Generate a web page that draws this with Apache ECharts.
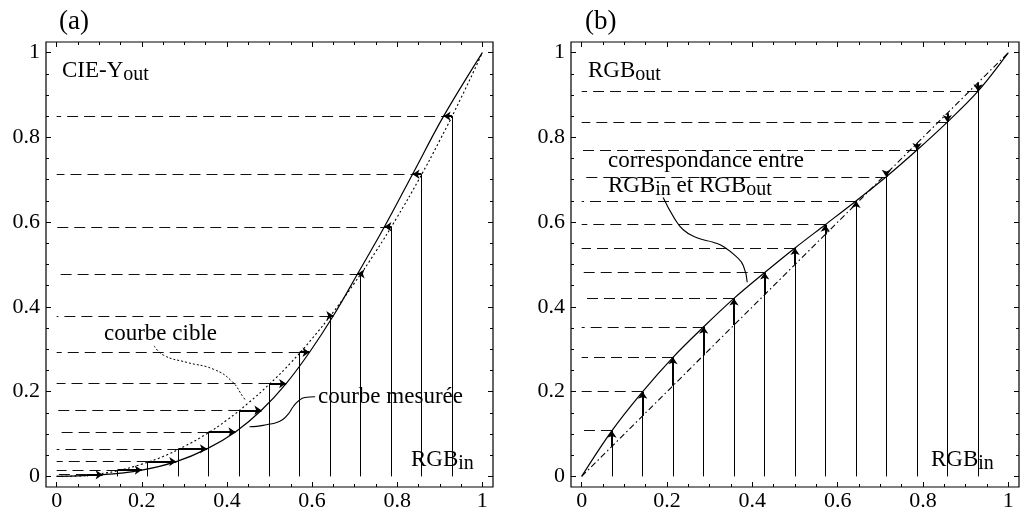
<!DOCTYPE html>
<html>
<head>
<meta charset="utf-8">
<script src="https://cdn.jsdelivr.net/npm/echarts@6/dist/echarts.min.js"></script>
<style>
  html, body { margin: 0; padding: 0; background: #fff; }
  #chart { width: 1021px; height: 512px; }
</style>
</head>
<body>
<div id="chart"></div>
<script>
// Input levels RGB_in = k/14 (k = 1..13)
const rgbIn = [0.071, 0.143, 0.214, 0.286, 0.357, 0.429, 0.5, 0.571, 0.643, 0.714, 0.786, 0.857, 0.929];
// Target CIE-Y values reached at each input level
const targetY = [0.004, 0.015, 0.035, 0.065, 0.105, 0.156, 0.219, 0.293, 0.379, 0.478, 0.589, 0.713, 0.850];
// Corrected output levels RGB_out giving the target on the measured curve
const rgbOut = [0.108, 0.200, 0.281, 0.353, 0.420, 0.481, 0.539, 0.594, 0.650, 0.707, 0.770, 0.836, 0.909];

// Target curve (dotted), sampled along RGB_in
const curveX = [0, 0.05, 0.1, 0.15, 0.2, 0.25, 0.3, 0.35, 0.4, 0.45, 0.5, 0.55, 0.6, 0.65, 0.7, 0.75, 0.8, 0.85, 0.9, 0.95, 1];
const targetCurve = [0, 0.001, 0.006, 0.015, 0.029, 0.047, 0.071, 0.099, 0.133, 0.173, 0.218, 0.268, 0.325, 0.388, 0.457, 0.531, 0.612, 0.699, 0.793, 0.893, 1];

// Axis ticks
const majorTicks = [0, 0.2, 0.4, 0.6, 0.8, 1];
const tickLabels = ['0', '0.2', '0.4', '0.6', '0.8', '1'];
const minorTicks = [0.05, 0.1, 0.15, 0.25, 0.3, 0.35, 0.45, 0.5, 0.55, 0.65, 0.7, 0.75, 0.85, 0.9, 0.95];

// Leader lines for the annotations (data coordinates)
const cibleLeader = [[0.229, 0.308], [0.251, 0.286], [0.306, 0.269], [0.368, 0.253], [0.411, 0.225], [0.439, 0.186], [0.445, 0.178]];
const mesureeLeader = [[0.607, 0.188], [0.583, 0.186], [0.568, 0.178], [0.556, 0.165], [0.544, 0.147], [0.532, 0.135], [0.517, 0.127], [0.493, 0.122], [0.470, 0.118], [0.453, 0.117]];
const corrLeader = [[0.191, 0.658], [0.215, 0.613], [0.238, 0.582], [0.270, 0.563], [0.310, 0.552], [0.333, 0.542], [0.363, 0.518], [0.379, 0.497], [0.388, 0.458]];

const FONT = 'Liberation Serif';
const AX_MIN = -0.025, AX_MAX = 1.025;

function frameAxis(gridIndex, position, ticks, len, withLabels) {
  return {
    type: 'value', gridIndex, position, min: AX_MIN, max: AX_MAX,
    axisLine: { show: false, onZero: false },
    splitLine: { show: false },
    axisTick: { show: true, inside: true, length: len, customValues: ticks,
                lineStyle: { color: '#000', width: 1 } },
    axisLabel: withLabels ? {
      show: true, customValues: majorTicks,
      formatter: v => tickLabels[Math.round(v * 5)],
      fontFamily: FONT, fontSize: 22, color: '#000',
      margin: (position === 'bottom') ? 3 : 6
    } : { show: false }
  };
}

function axesFor(gridIndex, dim) {
  const a = dim === 'x' ? ['bottom', 'top'] : ['left', 'right'];
  return [
    frameAxis(gridIndex, a[0], majorTicks, 5, true),
    frameAxis(gridIndex, a[0], minorTicks, 3, false),
    frameAxis(gridIndex, a[1], majorTicks, 5, false),
    frameAxis(gridIndex, a[1], minorTicks, 3, false)
  ];
}

const xAxes = axesFor(0, 'x').concat(axesFor(1, 'x'));
const yAxes = axesFor(0, 'y').concat(axesFor(1, 'y'));

function seg(ax, data, style, extra) {
  return Object.assign({
    type: 'lines', coordinateSystem: 'cartesian2d',
    xAxisIndex: ax, yAxisIndex: ax, silent: true, symbol: 'none',
    data: data.map(c => ({ coords: c })),
    lineStyle: Object.assign({ opacity: 1, curveness: 0 }, style)
  }, extra || {});
}
function curve(ax, pts, style, smooth) {
  return {
    type: 'line', xAxisIndex: ax, yAxisIndex: ax, data: pts, silent: true,
    showSymbol: false, smooth: smooth, clip: false, lineStyle: style, z: 3
  };
}

// Panel (a): target vs measured CIE-Y
const measuredA = [[0, 0]].concat(rgbOut.map((r, i) => [r, targetY[i]]), [[1, 1]]);
const targetA = curveX.map((x, i) => [x, targetCurve[i]]);
// Panel (b): correspondence RGB_in -> RGB_out
const corrB = [[0, 0]].concat(rgbIn.map((x, i) => [x, rgbOut[i]]), [[1, 1]]);

const dashStyle = { color: '#111', width: 1.1, type: [11, 6] };
const vStyle = { color: '#000', width: 1 };
const arrowStyle = { color: '#000', width: 2 };

const series = [
  // (a)
  seg(0, rgbIn.map((x, i) => [[x, targetY[i]], [0, targetY[i]]]), dashStyle),
  seg(0, rgbIn.map((x, i) => [[x, 0], [x, targetY[i]]]), vStyle),
  curve(0, targetA, { color: '#000', width: 1.1, type: [2, 2.5] }, true),
  curve(0, measuredA, { color: '#000', width: 1.2 }, 0.35),
  seg(0, rgbIn.map((x, i) => [[x, targetY[i]], [rgbOut[i], targetY[i]]]), arrowStyle,
      { symbol: ['none', 'arrow'], symbolSize: 7, z: 4 }),
  curve(0, cibleLeader, { color: '#000', width: 1, type: [2, 2] }, true),
  curve(0, mesureeLeader, { color: '#000', width: 1.1 }, true),
  // (b)
  seg(4, rgbIn.map((x, i) => [[x, rgbOut[i]], [0, rgbOut[i]]]), dashStyle),
  seg(4, rgbIn.map((x, i) => [[x, 0], [x, rgbOut[i]]]), vStyle),
  curve(4, [[0, 0], [1, 1]], { color: '#000', width: 1.1, type: [6, 3, 1.5, 3] }, false),
  curve(4, corrB, { color: '#000', width: 1.2 }, 0.35),
  seg(4, rgbIn.map((x, i) => [[x, x], [x, rgbOut[i]]]), arrowStyle,
      { symbol: ['none', 'arrow'], symbolSize: 7, z: 4 }),
  curve(4, corrLeader, { color: '#000', width: 1.1 }, true)
];

function txt(x, y, text, size) {
  return { type: 'text', x, y, silent: true,
    style: { text, fontFamily: FONT, fontSize: size, fill: '#000', verticalAlign: 'middle', align: 'left' } };
}
const richStyles = {
  m: { fontFamily: FONT, fontSize: 23, fill: '#000' },
  s: { fontFamily: FONT, fontSize: 20, fill: '#000', padding: [7, 0, 0, 0] }
};
function richText(x, y, text) {
  return { type: 'text', x, y, silent: true,
    style: { text, verticalAlign: 'middle', align: 'left', rich: richStyles } };
}

const chart = echarts.init(document.getElementById('chart'), null, { renderer: 'canvas' });
chart.setOption({
  animation: false,
  backgroundColor: '#fff',
  grid: [
    { left: 46, top: 42, width: 447, height: 446, show: true, borderColor: '#000', borderWidth: 1.2, containLabel: false },
    { left: 571, top: 42, width: 448, height: 446, show: true, borderColor: '#000', borderWidth: 1.2, containLabel: false }
  ],
  xAxis: xAxes,
  yAxis: yAxes,
  series,
  graphic: [
    txt(59, 22, '(a)', 27),
    txt(585, 22, '(b)', 27),
    richText(62, 71, '{m|CIE-Y}{s|out}'),
    richText(411, 460, '{m|RGB}{s|in}'),
    txt(104, 334, 'courbe cible', 23),
    txt(318, 397, 'courbe mesurée', 23),
    richText(588, 71, '{m|RGB}{s|out}'),
    richText(931, 460, '{m|RGB}{s|in}'),
    txt(608, 161, 'correspondance entre', 23),
    richText(608, 186, '{m|RGB}{s|in}{m| et RGB}{s|out}')
  ]
});
</script>
</body>
</html>
